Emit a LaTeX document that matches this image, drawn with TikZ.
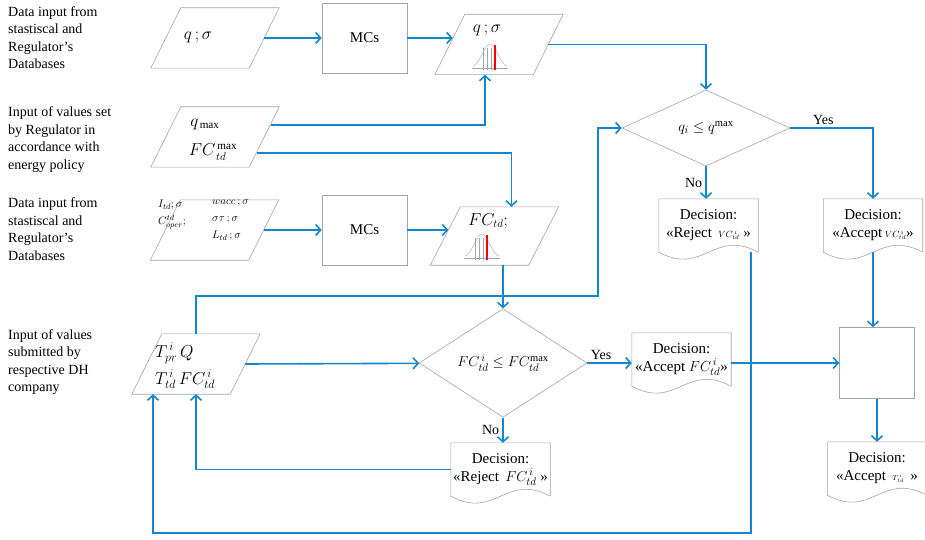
\documentclass[tikz,border=0pt]{standalone}
\usepackage{amsmath}
\usepackage{fontspec}
\setmainfont{Liberation Serif}
\usepackage{tikz}
\usetikzlibrary{positioning}
\usetikzlibrary{shapes.geometric}
\usetikzlibrary{arrows.meta}
\usetikzlibrary{calc}

\definecolor{flowblue}{RGB}{16,135,206}
\definecolor{edgegrey}{RGB}{165,165,165}

\tikzset{
  flow/.style={draw=flowblue, line width=1.6pt, -{Straight Barb[length=5pt,width=11pt]}},
  outline/.style={draw=edgegrey, line width=0.6pt},
  para/.style={minimum width=128pt, minimum height=60pt, inner sep=0pt},
  box/.style={outline, minimum width=85pt, minimum height=70pt,
    font=\fontsize{15}{18}\selectfont},
  check/.style={outline, shape=diamond, minimum width=168pt,
    minimum height=76pt, inner sep=0pt, font=\fontsize{15}{18}\selectfont},
  doc/.style={minimum width=99pt, minimum height=53pt, align=center, inner sep=0pt,
    font=\fontsize{15}{18}\selectfont},
  side/.style={anchor=west, align=left, inner sep=0pt, font=\fontsize{14}{17.5}\selectfont},
  lbl/.style={font=\fontsize{14}{17}\selectfont, inner sep=3pt},
  bigmath/.style={inner sep=0pt, font=\fontsize{16}{19}\selectfont},
  bell/.pic={
    \draw[edgegrey, line width=0.4pt] (-18,0) -- (18,0);
    \draw[edgegrey, line width=0.4pt] plot[domain=-17:17, samples=40, smooth] (\x,{-24*exp(-(\x*\x)/110)});
    \foreach \t in {-7,-3,1} \draw[edgegrey, line width=0.4pt] (\t,2) -- (\t,-20);
    \draw[red, line width=1.4pt] (5,2) -- (5,-23);
  }
}

\begin{document}
\begin{tikzpicture}[x=1pt, y=-1pt]
\clip (0,0) rectangle (925,540);

% what goes in, on the left
\node (src1) [side] at (8,37.5) {Data input from\\stastiscal and\\Regulator's\\Databases};
\node (src2) [side] at (8,139.5) {Input of values set\\by Regulator in\\accordance with\\energy policy};
\node (src3) [side] at (8,229) {Data input from\\stastiscal and\\Regulator's\\Databases};
\node (src4) [side] at (8,362) {Input of values\\submitted by\\respective DH\\company};

% data blocks
\node (data1) [para] at (215,38) {};
\node (qtxt1) [bigmath] at (198,37) {$q\,;\sigma$};
\node (mcs1) [box] at (364.5,38) {MCs};
\node (qsig) [para] at (499,44.5) {};
\node (qtxt2) [bigmath] at (487,30) {$q\,;\sigma$};
\pic at (490,68) {bell};

\node (lim) [para] at (215,137) {};
\node (qmax) [bigmath] at (205,124) {$q_{\,\max}$};
\node (fcmax) [bigmath] at (213,152) {$FC^{\,\max}_{\,td}$};

\node (data2) [para] at (214.5,230) {};
\node (inleft) [anchor=north west, align=left, inner sep=0pt, font=\fontsize{11}{17}\selectfont]
  at (158,200) {$I_{td};\sigma$\\$C^{td}_{oper};$};
\node (inright) [anchor=north west, align=left, inner sep=0pt, font=\fontsize{11}{17}\selectfont]
  at (212,200) {$wacc\,;\sigma$\\$\sigma\tau\,;\sigma$\\$L_{td}\,;\sigma$};
\node (mcs2) [box] at (364.5,230) {MCs};
\node (fcsig) [para, minimum height=58pt] at (494.5,236) {};
\node (fctxt) [bigmath] at (488,221) {$FC_{td};$};
\pic at (482,258) {bell};

\node (tariff) [para] at (196,364) {};
\node (tartxt) [anchor=west, align=left, inner sep=0pt, font=\fontsize{17}{27}\selectfont]
  at (155,366) {$T^{\,i}_{pr}\,Q$\\$T^{\,i}_{td}\,FC^{\,i}_{td}$};

\foreach \p in {data1,qsig,lim,data2,fcsig,tariff}
  \draw[outline] ([xshift=30pt]\p.north west) -- (\p.north east)
    -- ([xshift=-30pt]\p.south east) -- (\p.south west) -- cycle;

% checks and decisions
\node (chkq) [check] at (706,128) {$q_i \le q^{\max}$};
\node (chkfc) [check] at (503,363) {$FC^{\,i}_{td} \le FC^{\max}_{td}$};
\node (rejvc) [doc] at (708.5,225.5) {Decision:\\«Reject \,{\small$VC^{\,i}_{td}$} »};
\node (accvc) [doc] at (873,225.5) {Decision:\\«Accept\,{\small$VC^{\,i}_{td}$}»};
\node (accfc) [doc] at (681.5,359.5) {Decision:\\«Accept $FC^{\,i}_{td}$»};
\node (rejfc) [doc] at (500.5,469.5) {Decision:\\«Reject \,$FC^{\,i}_{td}$ »};
\node (tbox) [box, minimum width=75pt, minimum height=71pt] at (877,363) {};
\node (acct) [doc] at (877,468.5) {Decision:\\«Accept \,{\scriptsize$T^{\,i}_{td}$} \,»};

\foreach \d in {rejvc,accvc,accfc,rejfc,acct}
  \draw[outline] (\d.south east) -- (\d.north east) -- (\d.north west)
    -- (\d.south west) .. controls ($(\d.south)+(-5,24)$) and ($(\d.south)+(5,-24)$) .. (\d.south east);

% connectors
\draw[flow] ([xshift=-15pt]data1.east) -- (mcs1);
\draw[flow] (mcs1) -- ($(mcs1.east -| qsig.west)+(18,0)$);
\draw[flow] ([xshift=-15pt]qsig.east) -| (chkq.north);
\draw[flow] ($(lim.east)+(-8,-12)$) -| ([xshift=-14pt]qsig.south);
\draw[flow] ($(lim.east)+(-22,16)$) -| ([xshift=17pt]fcsig.north);
\draw[flow] ([xshift=-15pt]data2.east) -- (mcs2);
\draw[flow] (mcs2) -- ($(mcs2.east -| fcsig.west)+(18,0)$);
\draw[flow] (fcsig.south -| chkfc.north) -- (chkfc.north);
\coordinate (qloop) at (598,296);
\draw[flow] (tariff.north) |- (qloop) |- (chkq.west);
\draw[flow] ([xshift=-15pt]tariff.east) -- (chkfc);

\draw[flow] (chkq.east) -| (accvc.north) node[lbl, pos=0.2, above] {Yes};
\draw[flow] (chkq.south) -- (chkq.south |- rejvc.north) node[lbl, midway, left] {No};
\draw[flow] (chkfc.east) -- (chkfc.east -| accfc.west) node[lbl, pos=0.31, above] {Yes};
\draw[flow] (chkfc.south) -- (chkfc.south |- rejfc.north) node[lbl, midway, left] {No};

\draw[flow] (accfc.east |- tbox) -- (tbox);
\draw[flow] (accvc.south) -- (accvc.south |- tbox.north);
\draw[flow] (tbox) -- (acct);

% back to the company
\draw[flow] (rejfc.west) -| (tariff.south);
\coordinate (vcback) at (153,533);
\draw[flow] ([xshift=-7pt]rejvc.south east) |- (vcback) -- (vcback |- tariff.south);
\end{tikzpicture}
\end{document}
